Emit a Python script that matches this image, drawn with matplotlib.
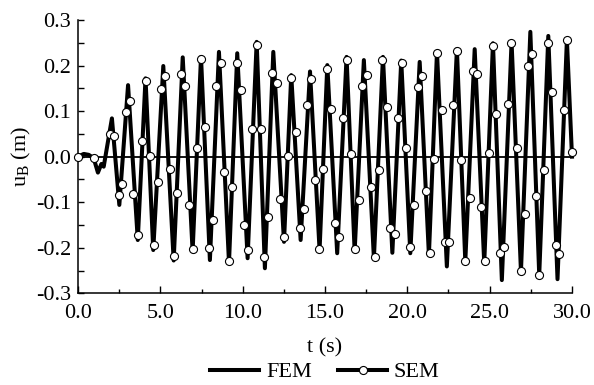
import matplotlib
matplotlib.use('Agg')
import matplotlib.pyplot as plt
from matplotlib.lines import Line2D
from matplotlib.ticker import MultipleLocator, FormatStrFormatter

plt.rcParams['font.family'] = ['Liberation Serif', 'DejaVu Serif']
plt.rcParams['mathtext.fontset'] = 'custom'
plt.rcParams['mathtext.rm'] = 'Liberation Serif'

# FEM curve at its turning points
fem_t = [0.0, 0.35, 0.65, 0.95, 1.21, 1.42, 1.56, 2.06, 2.51, 3.04, 3.63, 4.10,
         4.57, 5.18, 5.81, 6.36, 6.96, 7.47, 8.01, 8.56, 9.17, 9.67, 10.30, 10.85,
         11.35, 11.86, 12.51, 12.95, 13.52, 14.09, 14.67, 15.14, 15.74, 16.31,
         16.80, 17.36, 17.97, 18.52, 19.09, 19.63, 20.18, 20.75, 21.31, 21.80,
         22.40, 23.01, 23.52, 24.09, 24.67, 25.20, 25.74, 26.33, 26.90, 27.47,
         28.01, 28.56, 29.12, 29.69, 30.0]
fem_u = [0.0, 0.006, 0.004, -0.003, -0.035, -0.016, -0.022, 0.084, -0.106, 0.157,
         -0.183, 0.172, -0.205, 0.199, -0.228, 0.218, -0.208, 0.219, -0.227, 0.230,
         -0.233, 0.227, -0.223, 0.252, -0.245, 0.230, -0.187, 0.179, -0.183, 0.187,
         -0.205, 0.201, -0.212, 0.219, -0.208, 0.212, -0.223, 0.219, -0.211, 0.211,
         -0.212, 0.208, -0.216, 0.230, -0.241, 0.236, -0.230, 0.236, -0.234, 0.249,
         -0.271, 0.252, -0.252, 0.274, -0.260, 0.265, -0.269, 0.257, 0.0]

# SEM samples (circles)
sem_t = [0.00, 0.99, 1.93, 2.21, 2.46, 2.70, 2.90, 3.17, 3.37, 3.64, 3.87, 4.13,
         4.37, 4.62, 4.85, 5.06, 5.31, 5.56, 5.80, 6.03, 6.25, 6.50, 6.73, 6.99,
         7.21, 7.44, 7.71, 7.95, 8.20, 8.38, 8.68, 8.88, 9.17, 9.37, 9.63, 9.88,
         10.10, 10.34, 10.58, 10.85, 11.09, 11.31, 11.56, 11.76, 12.06, 12.26,
         12.53, 12.74, 12.91, 13.22, 13.48, 13.72, 13.92, 14.17, 14.39, 14.63,
         14.88, 15.10, 15.38, 15.58, 15.85, 16.09, 16.31, 16.56, 16.80, 17.08,
         17.25, 17.55, 17.77, 18.01, 18.26, 18.48, 18.76, 18.96, 19.23, 19.43,
         19.67, 19.94, 20.18, 20.40, 20.64, 20.91, 21.11, 21.40, 21.62, 21.81,
         22.10, 22.30, 22.54, 22.77, 23.01, 23.27, 23.52, 23.78, 23.98, 24.23,
         24.47, 24.70, 24.94, 25.18, 25.40, 25.64, 25.90, 26.12, 26.32, 26.64,
         26.92, 27.14, 27.34, 27.57, 27.81, 28.01, 28.31, 28.52, 28.78, 29.02,
         29.22, 29.49, 29.69, 30.00]
sem_u = [0.000, -0.002, 0.049, 0.046, -0.084, -0.060, 0.097, 0.122, -0.082, -0.172,
         0.035, 0.165, 0.002, -0.195, -0.055, 0.149, 0.178, -0.027, -0.218, -0.079,
         0.182, 0.155, -0.107, -0.203, 0.020, 0.214, 0.064, -0.201, -0.139, 0.155,
         0.205, -0.033, -0.230, -0.066, 0.205, 0.146, -0.150, -0.206, 0.061, 0.245,
         0.061, -0.221, -0.133, 0.184, 0.161, -0.093, -0.177, 0.001, 0.172, 0.055,
         -0.157, -0.114, 0.113, 0.170, -0.051, -0.203, -0.027, 0.192, 0.105, -0.146,
         -0.177, 0.084, 0.212, 0.005, -0.203, -0.095, 0.155, 0.179, -0.066, -0.221,
         -0.029, 0.212, 0.108, -0.157, -0.170, 0.084, 0.206, 0.018, -0.199, -0.106,
         0.152, 0.176, -0.075, -0.212, -0.005, 0.227, 0.102, -0.188, -0.188, 0.113,
         0.232, -0.007, -0.228, -0.091, 0.189, 0.181, -0.111, -0.230, 0.007, 0.243,
         0.093, -0.211, -0.199, 0.115, 0.250, 0.018, -0.250, -0.127, 0.199, 0.225,
         -0.086, -0.260, -0.029, 0.250, 0.141, -0.194, -0.214, 0.102, 0.256, 0.011]

fig = plt.figure(figsize=(5.94, 3.85), dpi=100)
ax = fig.add_axes([78 / 594, 1 - 293.3 / 385, 494 / 594, 273.3 / 385])

ax.axhline(0, color='black', lw=1.3, zorder=1)
ax.plot(fem_t, fem_u, color='black', lw=2.9, zorder=2, clip_on=False)
ax.plot(sem_t, sem_u, ls='none', marker='o', ms=5.8, mfc='white', mec='black',
        mew=0.8, zorder=3, clip_on=False)

ax.set_xlim(0, 30)
ax.set_ylim(-0.3, 0.3)
ax.xaxis.set_major_locator(MultipleLocator(5))
ax.xaxis.set_minor_locator(MultipleLocator(2.5))
ax.yaxis.set_major_locator(MultipleLocator(0.1))
ax.yaxis.set_minor_locator(MultipleLocator(0.05))
ax.xaxis.set_major_formatter(FormatStrFormatter('%.1f'))
ax.yaxis.set_major_formatter(FormatStrFormatter('%.1f'))

ax.spines['top'].set_visible(False)
ax.spines['right'].set_visible(False)
for s in ('left', 'bottom'):
    ax.spines[s].set_linewidth(1.1)
ax.tick_params(which='both', direction='in', width=1.0, labelsize=16)
ax.tick_params(axis='x', which='major', length=5, pad=8)
ax.tick_params(axis='x', which='minor', length=3)
ax.tick_params(axis='y', which='major', length=4, pad=5)
ax.tick_params(axis='y', which='minor', length=4)

ax.set_xlabel('t (s)', fontsize=16, labelpad=11)
ax.set_ylabel(r'u$_\mathrm{B}$ (m)', fontsize=16, labelpad=2)

handles = [Line2D([], [], color='black', lw=2.9),
           Line2D([], [], color='black', lw=2.9, marker='o', ms=5.8,
                  mfc='white', mec='black', mew=0.8)]
fig.legend(handles, ['FEM', 'SEM'], loc='center', bbox_to_anchor=(325 / 594, 1 - 372 / 385),
           ncol=2, frameon=False, fontsize=16, handlelength=2.2, columnspacing=1.2,
           handletextpad=0.3)

fig.savefig('out.png', dpi=100)
